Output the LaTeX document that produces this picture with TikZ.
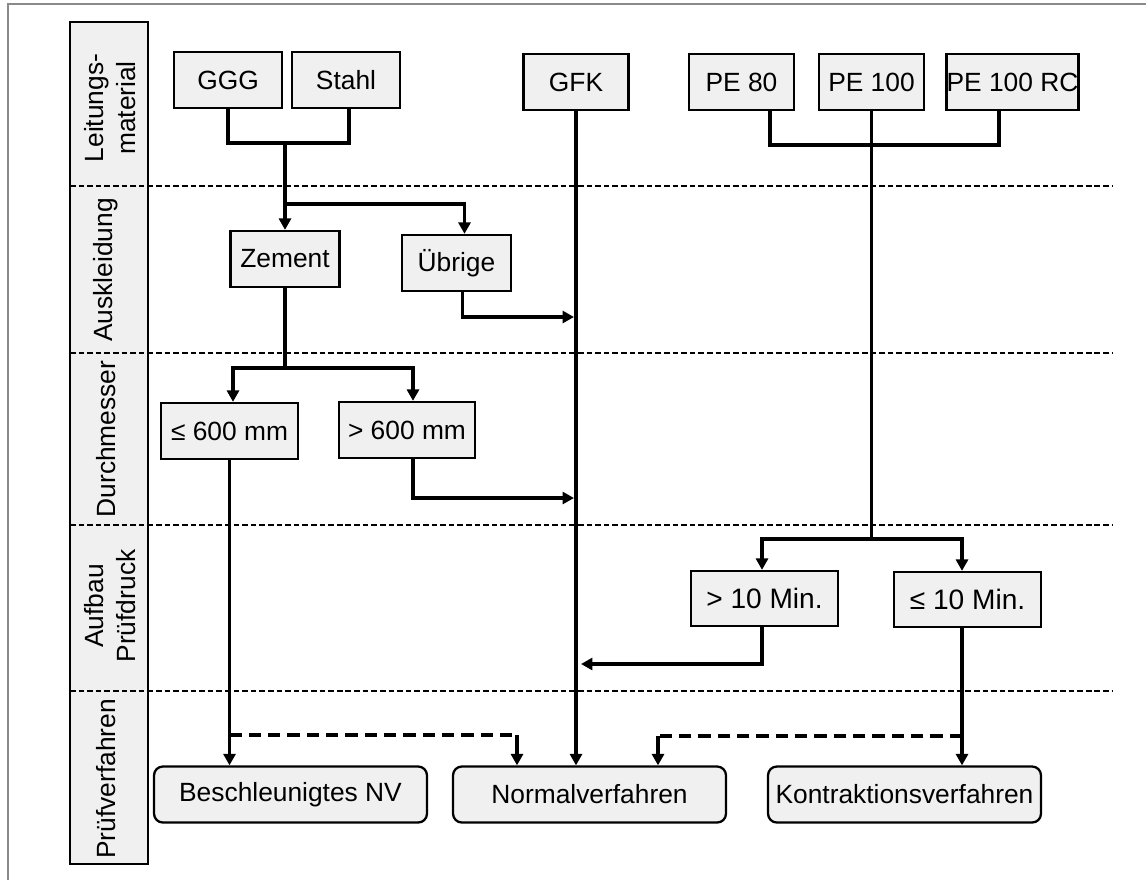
\documentclass[tikz,border=0pt]{standalone}
\usepackage{fontspec}
\setmainfont{Liberation Sans}
\usetikzlibrary{arrows.meta}
\definecolor{boxfill}{HTML}{F0F0F0}
\definecolor{framegray}{HTML}{8A8A8A}
\begin{document}
\begin{tikzpicture}[x=0.02cm,y=-0.02cm,
  font=\fontsize{15}{18}\selectfont,
  box/.style={draw=black,fill=boxfill,line width=1.3pt,inner sep=0pt,minimum height=1.12cm},
  rbox/.style={box,rounded corners=5pt,minimum width=5.46cm},
  conn/.style={line width=2.1pt},
  arr/.style={conn,-{Triangle[length=6.5pt,width=6.8pt]}},
  dline/.style={line width=2.4pt,dash pattern=on 7pt off 4pt},
  sep/.style={line width=0.8pt,dash pattern=on 3.2pt off 1.7pt},
  rowlab/.style={rotate=90,align=center,inner sep=0pt}
]
\useasboundingbox (0,0) rectangle (1146,880);
% outer frame (top and left only)
\draw[framegray,line width=0.8pt] (8,880) -- (8,4) -- (1146,4);
% label column
\draw[fill=boxfill,line width=1.3pt] (70,22) rectangle (148,864);
\node[rowlab] (l1) at (110,108) {Leitungs-\\material};
\node[rowlab] (l2) at (106,270) {Auskleidung};
\node[rowlab] (l3) at (106,439) {Durchmesser};
\node[rowlab] (l4) at (110,606) {Aufbau\\Prüfdruck};
\node[rowlab] (l5) at (106,779) {Prüfverfahren};
% separators
\foreach \yy in {186,353,525,691}
  \draw[sep] (70,\yy) -- (1112,\yy);

% boxes
\node[box,minimum width=2.16cm] (GGG) at (228,80) {GGG};
\node[box,minimum width=2.16cm] (Stahl) at (346,80) {Stahl};
\node[box,minimum width=2.1cm] (GFK) at (576,82) {GFK};
\node[box,minimum width=2.1cm] (PE80) at (741.5,82) {PE 80};
\node[box,minimum width=2.1cm] (PE100) at (871.5,82) {PE 100};
\node[box,minimum width=2.62cm] (PERC) at (1012.5,82) {PE 100 RC};
\node[box,minimum width=2.18cm] (Zem) at (285,259) {Zement};
\node[box,minimum width=2.18cm] (Ubr) at (456.5,263) {Übrige};
\node[box,minimum width=2.74cm] (le600) at (229.5,431) {≤ 600 mm};
\node[box,minimum width=2.72cm] (gt600) at (407,430) {> 600 mm};
\node[box,minimum width=2.94cm,minimum height=1.1cm,font=\fontsize{16}{18}\selectfont] (gt10) at (764.5,598.5) {> 10 Min.};
\node[box,minimum width=2.94cm,minimum height=1.1cm,font=\fontsize{16}{18}\selectfont] (le10) at (967.5,599.5) {≤ 10 Min.};
\node[rbox] (Bnv) at (290.5,794.5) {Beschleunigtes NV};
\node[rbox] (Nv) at (589.5,794.5) {Normalverfahren};
\node[rbox] (Kv) at (904.5,794.5) {Kontraktionsverfahren};

% junction coordinates
\coordinate (j0) at (285,143);
\coordinate (j1) at (285,204);
\coordinate (j2) at (285,368);
\coordinate (j3) at (871.5,145);
\coordinate (j4) at (871.5,539);
\coordinate (t1) at (574,317);
\coordinate (t2) at (574,498);
\coordinate (t3) at (581,664);
\coordinate (d1) at (229.5,735);
\coordinate (c1) at (517,735);
\coordinate (d2) at (962,736);
\coordinate (c2) at (658,736);

% connectors: GGG / Stahl
\draw[conn] (GGG.south) |- (j0) -| ([shift={(3,0)}]Stahl.south);
\draw[arr] (j0) -- (Zem.north);
\draw[arr] (j1) -| ([shift={(8,0)}]Ubr.north);
\draw[arr] ([shift={(6,0)}]Ubr.south) |- (t1);
% GFK
\draw[arr] (GFK.south) -- (GFK.south |- Nv.north);
% Zement -> diameters
\draw[conn] (Zem.south) -- (j2);
\draw[arr] (j2) -| ([shift={(3.5,0)}]le600.north);
\draw[arr] (j2) -| ([shift={(6,0)}]gt600.north);
\draw[arr] ([shift={(6,0)}]gt600.south) |- (t2);
\draw[arr] (le600.south) -- (le600.south |- Bnv.north);
\draw[dline] (d1) -- (c1);
\draw[arr] (c1) -- (c1 |- Nv.north);
% PE
\draw[conn] ([shift={(28.5,0)}]PE80.south) |- (j3) -| ([shift={(-13.5,0)}]PERC.south);
\draw[conn] (PE100.south) -- (j4);
\draw[arr] (j4) -| ([shift={(-2.5,0)}]gt10.north);
\draw[arr] (j4) -| ([shift={(-5.5,0)}]le10.north);
\draw[arr] ([shift={(-2.5,0)}]gt10.south) |- (t3);
\draw[arr] ([shift={(-5.5,0)}]le10.south) -- ([shift={(-5.5,0)}]le10.south |- Kv.north);
\draw[dline] (d2) -- (c2);
\draw[arr] (c2) -- (c2 |- Nv.north);
\end{tikzpicture}
\end{document}
